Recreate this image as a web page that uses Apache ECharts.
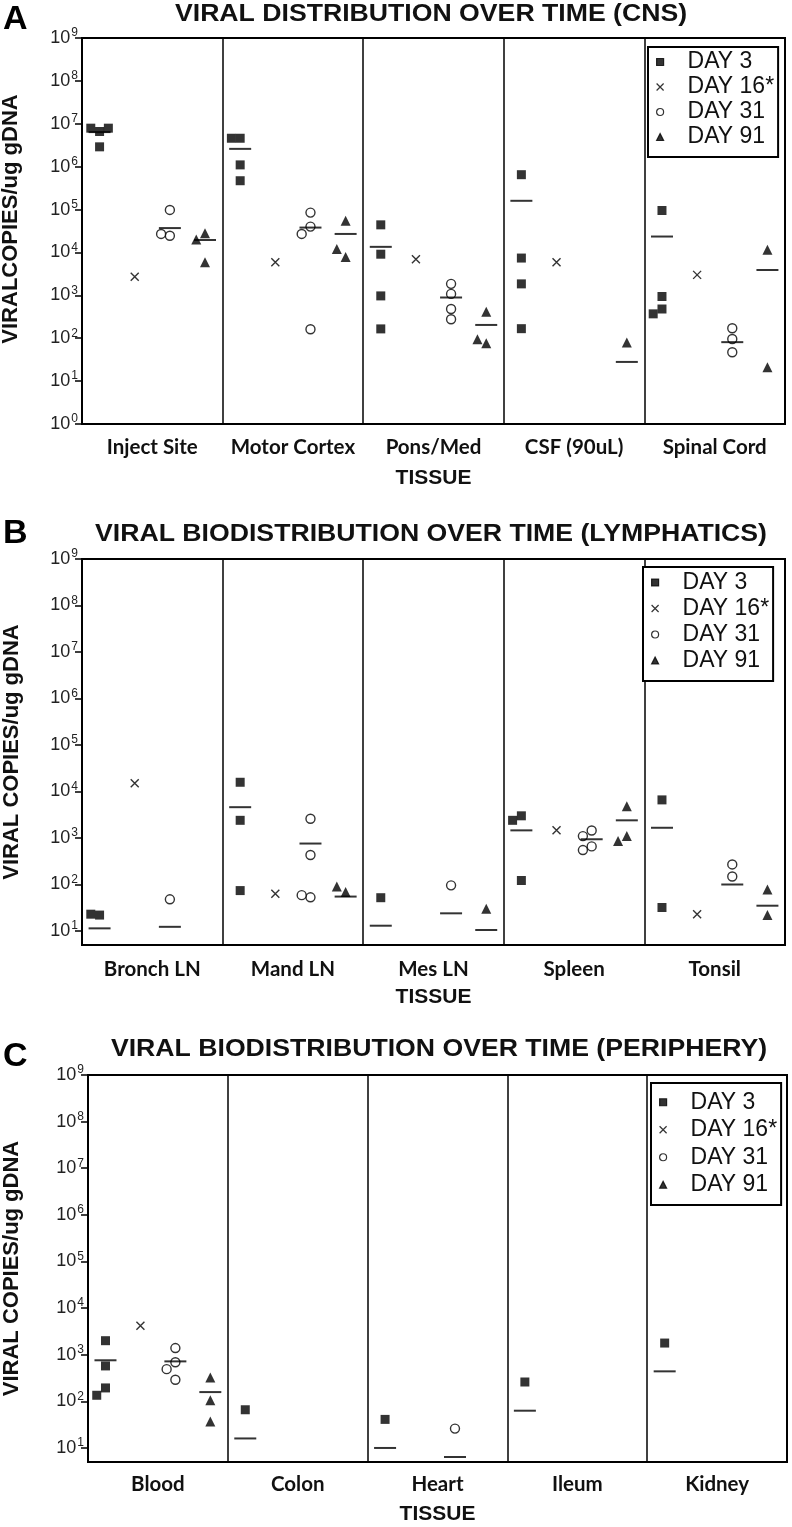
<!DOCTYPE html>
<html><head><meta charset="utf-8">
<script src="https://cdn.jsdelivr.net/npm/echarts@6/dist/echarts.min.js"></script>
<style>html,body{margin:0;padding:0;background:#fff}#c{width:792px;height:1527px}</style>
</head><body><div id="c"></div>
<script>
// ---------- DATA ----------
const days = ['DAY 3', 'DAY 16*', 'DAY 31', 'DAY 91'];

// Panel A (CNS)
const tissuesA = ['Inject Site', 'Motor Cortex', 'Pons/Med', 'CSF (90uL)', 'Spinal Cord'];
const day3A  = [[6.6e6, 7.9e6, 7.9e6, 2.9e6], [4.6e6, 4.6e6, 1.1e6, 4.7e5], [4.4e4, 9.1e3, 970, 165], [6.5e5, 7.4e3, 1850, 167], [9.5e4, 940, 480, 370]];
const day16A = [[2700], [5900], [6900], [5900], [3000]];
const day31A = [[9.8e4, 2.45e4, 2.7e4], [4.0e4, 8.5e4, 2.7e4, 162], [1850, 1080, 480, 277], [], [171, 96, 47]];
const day91A = [[2.8e4, 2.0e4, 5900], [5.5e4, 7800, 1.2e4], [417, 76, 95], [79], [1.15e4, 21]];
const meanA  = [[6.4e6, null, 3.7e4, 1.95e4], [2.6e6, null, 3.8e4, 2.7e4], [1.35e4, null, 890, 204], [1.6e5, null, null, 28], [2.35e4, null, 81, 3900]];

// Panel B (Lymphatics)
const tissuesB = ['Bronch LN', 'Mand LN', 'Mes LN', 'Spleen', 'Tonsil'];
const day3B  = [[22, 23], [1.58e4, 2400, 74], [52], [3000, 2400, 122], [6600, 32]];
const day16B = [[1.5e4], [63], [], [1460], [23]];
const day31B = [[48], [2600, 430, 53, 59], [96], [1450, 1100, 660, 550], [149, 270]];
const day91B = [[], [69, 91], [30], [4800, 1100, 860], [78, 22]];
const meanB  = [[11.4, null, 12.3, null], [4600, null, 760, 55], [13, null, 24, 10.5], [1460, null, 940, 2400], [1660, null, 100, 35]];

// Panel C (Periphery)
const tissuesC = ['Blood', 'Colon', 'Heart', 'Ileum', 'Kidney'];
const day3C  = [[2000, 575, 194, 135], [66], [41], [260], [1780]];
const day16C = [[4200], [], [], [], []];
const day31C = [[1390, 690, 490, 290], [], [26], [], []];
const day91C = [[325, 105, 37], [], [], [], []];
const meanC  = [[760, null, 720, 158], [16, null, null, null], [10, null, 6.4, null], [63, null, null, null], [440, null, null, null]];

const titles = ['VIRAL DISTRIBUTION OVER TIME (CNS)', 'VIRAL BIODISTRIBUTION OVER TIME (LYMPHATICS)', 'VIRAL BIODISTRIBUTION OVER TIME (PERIPHERY)'];
const yNames = ['VIRALCOPIES/ug gDNA', 'VIRAL COPIES/ug gDNA', 'VIRAL COPIES/ug gDNA'];
const letters = ['A', 'B', 'C'];
const yMins = [1, 5, 5];
const yMax = 1e9;

// ---------- LAYOUT ----------
const layout = [
  {grid: {left: 82, top: 38, width: 703, height: 386}, legend: {left: 648, top: 47, lh: 24, pad: [3, 4, 8, 8]}, title: [431, 14], letter: [3, 20], yGap: 60, yShift: 24, xGap: 44, labMargin: 13},
  {grid: {left: 82, top: 559, width: 703, height: 386}, legend: {left: 643, top: 567, lh: 25, pad: [3, 4, 8, 8]}, title: [431, 534], letter: [3, 534], yGap: 59, yShift: 0, xGap: 42, labMargin: 14},
  {grid: {left: 88, top: 1075, width: 699, height: 387}, legend: {left: 651, top: 1083, lh: 26.5, pad: [6, 4, 7, 8]}, title: [439, 1049], letter: [3, 1057], yGap: 65, yShift: 0, xGap: 42, labMargin: 12}
];

const panels = [
  {tissues: tissuesA, groups: [day3A, day16A, day31A, day91A], means: meanA},
  {tissues: tissuesB, groups: [day3B, day16B, day31B, day91B], means: meanB},
  {tissues: tissuesC, groups: [day3C, day16C, day31C, day91C], means: meanC}
];

const X_PATH = 'path://M0,0L10,10M10,0L0,10';
const dayStyle = [
  {symbol: 'rect', symbolSize: 9, itemStyle: {color: '#000', borderColor: '#000', borderWidth: 0}},
  {symbol: X_PATH, symbolSize: 8, itemStyle: {color: '#000', borderColor: '#000', borderWidth: 1.4}},
  {symbol: 'circle', symbolSize: 9, itemStyle: {color: '#fff', borderColor: '#000', borderWidth: 1.4}},
  {symbol: 'triangle', symbolSize: 10, itemStyle: {color: '#000', borderColor: '#000', borderWidth: 0}}
];

// side-by-side placement of overlapping points within a group
function spread(vals) {
  const placed = [];
  const cands = [0, -1, 1, -2, 2];
  return vals.map(v => {
    const ly = Math.log10(v);
    for (const c of cands) {
      if (placed.every(p => Math.abs(p.ly - ly) >= 0.2 || Math.abs(p.c - c) >= 1)) {
        placed.push({ly, c});
        return c;
      }
    }
    placed.push({ly, c: 0});
    return 0;
  });
}

const grids = [], xAxes = [], yAxes = [], series = [], legends = [], graphics = [];
const AX = '#000';
panels.forEach((pn, p) => {
  const L = layout[p];
  grids.push(Object.assign({show: true, borderColor: AX, borderWidth: 2, backgroundColor: 'transparent', containLabel: false, outerBoundsMode: 'none'}, L.grid));
  xAxes.push({
    type: 'category', gridIndex: p, data: pn.tissues, boundaryGap: true,
    axisLine: {show: true, lineStyle: {color: AX, width: 2}},
    axisTick: {show: false},
    splitLine: {show: true, interval: 0, lineStyle: {color: AX, width: 1.5}},
    axisLabel: {interval: 0, margin: L.labMargin, color: '#111', fontFamily: 'Lato', fontWeight: 'bold', fontSize: 20.5},
    name: 'TISSUE', nameLocation: 'middle', nameGap: L.xGap,
    nameTextStyle: {fontFamily: 'Liberation Sans', fontWeight: 'bold', fontSize: 21, color: '#111'}
  });
  xAxes.push({type: 'value', gridIndex: p, min: 0, max: 20, show: false});
  yAxes.push({
    type: 'log', logBase: 10, gridIndex: p, min: yMins[p], max: yMax, splitNumber: 9,
    axisLine: {show: true, lineStyle: {color: AX, width: 2}},
    axisTick: {show: true, length: 7, lineStyle: {color: AX, width: 1.5}},
    splitLine: {show: false},
    axisLabel: {
      margin: 4, showMinLabel: p === 0,
      formatter: v => '{b|10}{s|' + Math.round(Math.log10(v)) + '}',
      rich: {
        b: {fontSize: 18, lineHeight: 22, fontFamily: 'Liberation Sans', color: '#222'},
        s: {fontSize: 12, lineHeight: 12, fontFamily: 'Liberation Sans', color: '#222', verticalAlign: 'top', padding: [0, 0, 0, 1]}
      }
    },
    name: yNames[p], nameLocation: 'middle', nameRotate: 90, nameGap: L.yGap,
    nameTextStyle: {fontFamily: 'Liberation Sans', fontWeight: 'bold', fontSize: 22, color: '#111', padding: [0, 0, 0, L.yShift]}
  });

  pn.groups.forEach((grp, d) => {
    const data = [];
    grp.forEach((vals, t) => {
      const offs = spread(vals);
      vals.forEach((v, i) => data.push([t * 4 + d + 0.5 + offs[i] * 0.25, v]));
    });
    series.push(Object.assign({
      type: 'scatter', name: days[d], xAxisIndex: 2 * p + 1, yAxisIndex: p, data: data, z: 3, silent: true
    }, dayStyle[d]));
  });
  const mdata = [];
  pn.means.forEach((row, t) => row.forEach((m, d) => { if (m != null) mdata.push([t * 4 + d + 0.5, m]); }));
  series.push({type: 'scatter', name: 'mean', xAxisIndex: 2 * p + 1, yAxisIndex: p, data: mdata,
    symbol: 'rect', symbolSize: [22, 2], itemStyle: {color: '#000'}, z: 4, silent: true});

  legends.push({
    data: days, orient: 'vertical', left: L.legend.left, top: L.legend.top,
    padding: L.legend.pad, itemGap: 1, itemWidth: 7, itemHeight: 7,
    borderColor: '#000', borderWidth: 2, backgroundColor: '#fff',
    itemStyle: {borderWidth: 1.2},
    selectedMode: false,
    textStyle: {fontFamily: 'Liberation Sans', fontSize: 23, color: '#111', lineHeight: L.legend.lh, padding: [0, 0, 0, 19]}
  });

  graphics.push({type: 'text', x: L.title[0], y: L.title[1], scaleX: 1.11, originX: 0, originY: 0,
    style: {text: titles[p], fontFamily: 'Liberation Sans', fontWeight: 'bold', fontSize: 24, fill: '#111', textAlign: 'center', textVerticalAlign: 'middle'}});
  graphics.push({type: 'text', x: L.letter[0], y: L.letter[1],
    style: {text: letters[p], fontFamily: 'Liberation Sans', fontWeight: 'bold', fontSize: 34, fill: '#000', textAlign: 'left', textVerticalAlign: 'middle'}});
});

const chart = echarts.init(document.getElementById('c'), null, {renderer: 'canvas', width: 792, height: 1527});
chart.setOption({
  animation: false,
  backgroundColor: '#fff',
  grid: grids, xAxis: xAxes, yAxis: yAxes, series: series, legend: legends, graphic: graphics,
  tooltip: {show: false}
});
</script></body></html>
